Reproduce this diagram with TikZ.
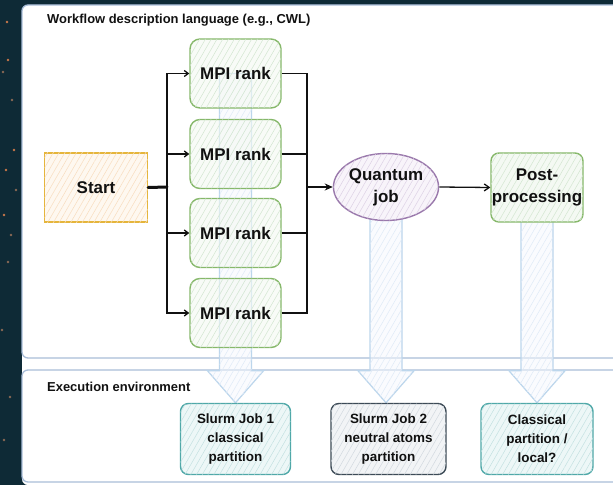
\documentclass[tikz,border=0pt]{standalone}
\usepackage{fontspec}
\setmainfont{Liberation Sans}
\usetikzlibrary{patterns.meta,shapes.geometric,arrows.meta,calc}
\definecolor{darkbg}{HTML}{0E2A36}
\definecolor{panelline}{HTML}{A9BDD8}
\definecolor{startline}{HTML}{E5B53B}
\definecolor{startfill}{HTML}{FEF8F0}
\definecolor{starthatch}{HTML}{F8DDBF}
\definecolor{greenline}{HTML}{86B86A}
\definecolor{greenfill}{HTML}{F4F9F3}
\definecolor{greenhatch}{HTML}{D3E6D0}
\definecolor{purpleline}{HTML}{9A79AC}
\definecolor{purplefill}{HTML}{F8F4FA}
\definecolor{purplehatch}{HTML}{DDD1E5}
\definecolor{tealline}{HTML}{4FA8A8}
\definecolor{tealfill}{HTML}{EDF7F7}
\definecolor{tealhatch}{HTML}{C3E1E1}
\definecolor{grayline}{HTML}{3C4A56}
\definecolor{grayfill}{HTML}{F2F4F6}
\definecolor{grayhatch}{HTML}{D2D9DF}
\definecolor{arrline}{HTML}{BCD6EC}
\definecolor{arrfill}{HTML}{F6F9FE}
\definecolor{arrhatch}{HTML}{DFEAF7}
\definecolor{dotA}{HTML}{C9784A}
\definecolor{dotB}{HTML}{8A6A55}
\definecolor{ink}{HTML}{111111}
\pgfdeclarelayer{layerpanel}
\pgfdeclarelayer{layerarrow}
\pgfsetlayers{layerpanel,layerarrow,main}
\newcommand\bigarr[3]{%
  \coordinate (#3) at (#1 |- #2.north);
  \path[bigarrow] ([xshift=-16bp]#1) -- ([xshift=-16bp,yshift=32bp]#3) -- ([xshift=-28bp,yshift=32bp]#3) -- (#3)
    -- ([xshift=28bp,yshift=32bp]#3) -- ([xshift=16bp,yshift=32bp]#3) -- ([xshift=16bp]#1) -- cycle;
}
\begin{document}
\begin{tikzpicture}[x=1bp,y=-1bp,
  hatch/.style n args={3}{draw=#1, fill=#2, postaction={pattern={Lines[angle=60,distance=5bp,line width=0.5bp]}, pattern color=#3}},
  basebox/.style={line width=1.4bp, text=ink, font=\bfseries\fontsize{17}{22}\selectfont, align=center, inner sep=0pt},
  startbox/.style={basebox, hatch={startline}{startfill}{starthatch}, minimum width=103bp, minimum height=69bp},
  mpibox/.style={basebox, draw=greenline, fill=greenfill, fill opacity=0.6, text opacity=1,
     postaction={pattern={Lines[angle=60,distance=5bp,line width=0.5bp]}, pattern color=greenhatch},
     rounded corners=10bp, minimum width=91bp, minimum height=69bp},
  postbox/.style={basebox, hatch={greenline}{greenfill}{greenhatch}, rounded corners=8bp, minimum width=92bp, minimum height=69bp},
  qbox/.style={basebox, ellipse, hatch={purpleline}{purplefill}{purplehatch}, minimum width=102bp, minimum height=67bp},
  envbox/.style={line width=1.4bp, text=ink, font=\bfseries\fontsize{13.5}{19}\selectfont, align=center, inner sep=0pt,
     rounded corners=8bp, minimum height=71bp},
  tealbox/.style={envbox, hatch={tealline}{tealfill}{tealhatch}},
  graybox/.style={envbox, hatch={grayline}{grayfill}{grayhatch}},
  paneltitle/.style={text=ink, font=\bfseries\fontsize{13}{15}\selectfont, anchor=west, inner sep=0pt},
  conn/.style={draw=ink, line width=1.3bp},
  bigarrow/.style={draw=arrline, line width=1.2bp, fill=arrfill, fill opacity=0.5,
     postaction={pattern={Lines[angle=60,distance=5bp,line width=0.5bp]}, pattern color=arrhatch}},
]
\useasboundingbox (0,0) rectangle (613,485);

% nodes
\node[startbox] (start) at (96,187.5) {Start};
\node[mpibox] (mpi1) at (235.5,73.5) {MPI rank};
\node[mpibox] (mpi2) at (235.5,154) {MPI rank};
\node[mpibox] (mpi3) at (235.5,233) {MPI rank};
\node[mpibox] (mpi4) at (235.5,313) {MPI rank};
\node[qbox] (qjob) at (386,187) {Quantum\\job};
\node[postbox] (post) at (537,187.5) {Post-\\processing};
\node[tealbox, minimum width=110bp] (slurm1) at (235.5,439) {Slurm Job 1\\classical\\partition};
\node[graybox, minimum width=115bp] (slurm2) at (388.5,439) {Slurm Job 2\\neutral atoms\\partition};
\node[tealbox, minimum width=112bp] (local) at (537,439) {Classical\\partition /\\local?};

\node[paneltitle] (ttop) at (47,20) {Workflow description language (e.g., CWL)};
\node[paneltitle] (tbot) at (47,387) {Execution environment};

% connectors
\coordinate (split) at (167,187);
\coordinate (merge) at (307,187);
\draw[conn, line width=3bp, line cap=round] (start.east) -- (split);
\foreach \i in {1,...,4}{
  \draw[conn, -{Straight Barb[length=4bp,width=6bp]}] (split) |- (mpi\i.west);
  \draw[conn] (mpi\i.east) -| (merge);
}
\draw[conn, line width=2.2bp, -{Stealth[length=8bp,width=7bp]}] (merge) -- (qjob.west);
\draw[conn, -{Straight Barb[length=5bp,width=7bp]}] (qjob.east) -- (post.west);

% big arrows
\begin{pgfonlayer}{layerarrow}
\bigarr{mpi1.center}{slurm1}{tipa}
\bigarr{qjob.center}{slurm2}{tipb}
\bigarr{post.center}{local}{tipc}
\end{pgfonlayer}

% background panels
\begin{pgfonlayer}{layerpanel}
\fill[darkbg] (0,0) rectangle (613,485);
\fill[white, rounded corners=6bp] (22,5) rectangle (640,485);
\draw[panelline, line width=1.3bp, rounded corners=6bp] (22,5) rectangle (640,358);
\draw[panelline, line width=1.3bp, rounded corners=6bp] (22,370) rectangle (640,482);
\foreach \p/\c in {{(7,22)}/dotA,{(8,60)}/dotA,{(3,72)}/dotB,{(12,100)}/dotB,{(14,150)}/dotA,{(6,170)}/dotA,
   {(16,190)}/dotB,{(4,215)}/dotA,{(11,235)}/dotB,{(8,262)}/dotB,{(2,330)}/dotB,{(10,397)}/dotB,{(4,440)}/dotB}{
  \fill[\c] \p circle (1.4bp);
}
\end{pgfonlayer}
\end{tikzpicture}
\end{document}
